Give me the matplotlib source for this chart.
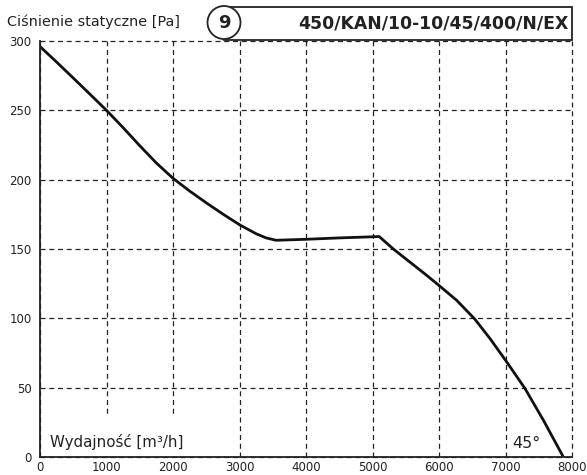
import matplotlib
matplotlib.use("Agg")
import matplotlib.pyplot as plt
from matplotlib.patches import Circle, Rectangle

# Data
flow = [0, 250, 500, 750, 1000, 1250, 1500, 1750, 2000, 2250, 2500, 2750,
        3000, 3250, 3400, 3550, 4000, 4500, 5000, 5100, 5313, 5564, 5815,
        6000, 6266, 6541, 6767, 7000, 7293, 7569, 7870]
pressure = [296, 284.8, 273.3, 261.7, 250, 237.5, 224.5, 212, 201, 191.8, 183.3, 175.2,
            167.5, 161, 158, 156.3, 157, 158, 158.8, 159, 150, 140.5, 131,
            123.7, 113, 99.3, 85.4, 69.8, 49.4, 26.6, 0]
x_ticks = [0, 1000, 2000, 3000, 4000, 5000, 6000, 7000, 8000]
y_ticks = [0, 50, 100, 150, 200, 250, 300]
y_label = "Ciśnienie statyczne [Pa]"
x_label = "Wydajność [m³/h]"
curve_no = "9"
model = "450/KAN/10-10/45/400/N/EX"
angle = "45°"

W, H = 587, 475
fig = plt.figure(figsize=(W / 100, H / 100), dpi=100)
L, R, T, B = 40, 572, 41, 457
ax = fig.add_axes([L / W, 1 - B / H, (R - L) / W, (B - T) / H])

ax.set_xlim(0, 8000)
ax.set_ylim(0, 300)
ax.set_xticks(x_ticks)
ax.set_yticks(y_ticks)
ax.tick_params(length=0, labelsize=8.5, colors="#222222", pad=3)
ax.tick_params(axis="y", pad=6)

for s in ["top", "right"]:
    ax.spines[s].set_visible(False)
for s in ["left", "bottom"]:
    ax.spines[s].set_linewidth(1.3)
    ax.spines[s].set_color("#222222")
    ax.spines[s].set_zorder(6)

ax.grid(True, color="#222222", linestyle=(0, (4, 3)), linewidth=0.9)
ax.set_axisbelow(True)
for gl in ax.get_xgridlines() + ax.get_ygridlines():
    gl.set_clip_on(False)

ax.plot(flow, pressure, color="#111111", linewidth=2.0, zorder=3,
        solid_joinstyle="round")

# white area behind the x-axis label (hides grid lines there)
ax.add_patch(Rectangle((0.004, 0.003), (190 - L) / (R - L), (B - 418) / (B - T),
                       transform=ax.transAxes, facecolor="white",
                       edgecolor="none", zorder=2))
ax.text((50 - L) / (R - L), (B - 442) / (B - T), x_label,
        transform=ax.transAxes, fontsize=10.8, color="#222222",
        va="center", ha="left", zorder=4)

ax.text((512 - L) / (R - L), (B - 443) / (B - T), angle, transform=ax.transAxes,
        fontsize=11.5, color="#222222", va="center", ha="left", zorder=4)

# y-axis title at top-left
fig.text(7 / W, 1 - 22 / H, y_label, fontsize=10.4, color="#222222",
         va="center", ha="left")

# Title box and circle (in inches via dpi_scale_trans)
tr = fig.dpi_scale_trans
box = Rectangle((224 / 100, (H - 40) / 100), (R - 224) / 100, (40 - 7) / 100,
                transform=tr, facecolor="white", edgecolor="#222222",
                linewidth=1.3, zorder=5)
fig.add_artist(box)
circ = Circle((224 / 100, (H - 22.5) / 100), 16.5 / 100, transform=tr,
              facecolor="white", edgecolor="#222222", linewidth=1.3, zorder=6)
fig.add_artist(circ)
fig.text(224 / W, 1 - 23 / H, curve_no, fontsize=13, fontweight="bold",
         color="#222222", ha="center", va="center", zorder=7)
fig.text(568 / W, 1 - 23 / H, model, fontsize=12.4, fontweight="bold",
         color="#222222", ha="right", va="center", zorder=7)

fig.savefig("out.png", dpi=100)
